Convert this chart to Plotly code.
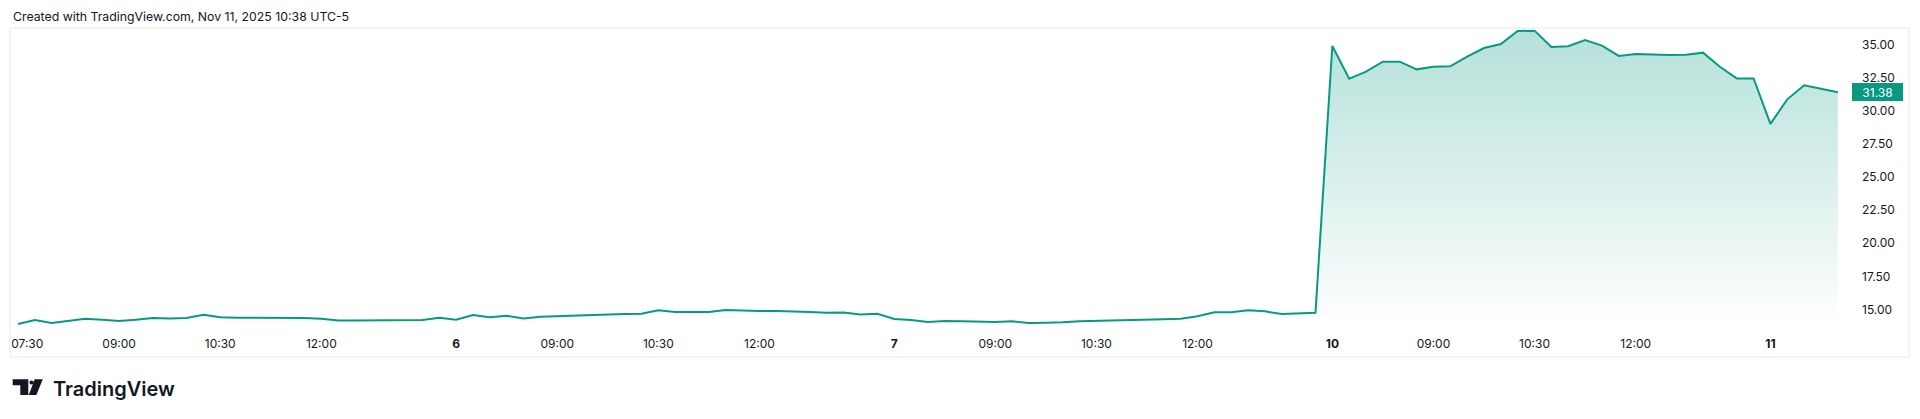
import plotly.graph_objects as go

# ---------------- data (15-minute closes) ----------------
day5 = [13.91, 14.21, 13.98, 14.16, 14.31, 14.23, 14.13, 14.23, 14.36, 14.33, 14.36, 14.61, 14.41,
        14.38, 14.38, 14.38, 14.36, 14.36, 14.31, 14.18, 14.18, 14.18, 14.21, 14.21, 14.21, 14.38]
day6 = [14.23, 14.58, 14.41, 14.53, 14.33, 14.46, 14.51, 14.53, 14.61, 14.63, 14.66, 14.68, 14.94,
        14.81, 14.81, 14.81, 14.96, 14.91, 14.88, 14.88, 14.86, 14.81, 14.76, 14.78, 14.63, 14.68]
day7 = [14.28, 14.21, 14.06, 14.13, 14.11, 14.08, 14.06, 14.11, 13.98, 14.01, 14.03, 14.11, 14.13,
        14.18, 14.21, 14.23, 14.26, 14.31, 14.49, 14.79, 14.79, 14.94, 14.86, 14.66, 14.71, 14.76]
day10 = [34.87, 32.41, 32.94, 33.69, 33.69, 33.11, 33.31, 33.34, 34.07, 34.72, 35.02, 36.00, 36.03,
         34.80, 34.85, 35.32, 34.90, 34.12, 34.27, 34.22, 34.20, 34.22, 34.37, 33.31, 32.43, 32.43]
day11 = [29.00, 30.85, 31.91, 31.65, 31.38]

tick_index = [0.55, 6, 12, 18, 26, 32, 38, 44, 52, 58, 64, 70, 78, 84, 90, 96, 104]
tick_labels = ["07:30", "09:00", "10:30", "12:00", "<b>6</b>", "09:00", "10:30", "12:00",
               "<b>7</b>", "09:00", "10:30", "12:00", "<b>10</b>", "09:00", "10:30", "12:00",
               "<b>11</b>"]
y_ticks = [15.0, 17.5, 20.0, 22.5, 25.0, 27.5, 30.0, 32.5, 35.0]
last_price = 31.38

title_text = "Created with TradingView.com, Nov 11, 2025 10:38 UTC-5"

# ---------------- build ----------------
closes = day5 + day6 + day7 + day10 + day11
idx = list(range(len(closes)))

PAGE_OFF = 8                       # default body margin of the html page
W, H = 1920 - PAGE_OFF, 419 - PAGE_OFF
L, R, T, B = 10, 1852, 28, 326     # plot area in page pixels
Y_LO, Y_HI = 13.756, 36.229
X_LO, X_HI = -0.475, 108.84

GREEN = "#089981"
TXT = "#131722"
FONT = "Inter, Roboto, sans-serif"


def px(x):
    return (x - L) / (R - L)


def py(y):
    return (B - y) / (B - T)


fig = go.Figure()
fig.add_trace(go.Scatter(
    x=idx, y=closes, mode="lines",
    line=dict(color=GREEN, width=2),
    fill="tozeroy",
    fillgradient=dict(type="vertical",
                      colorscale=[[0, "rgba(8,153,129,0.0)"], [1, "rgba(8,153,129,0.30)"]],
                      start=Y_LO, stop=max(closes)),
    hoverinfo="skip", showlegend=False,
))

shapes = [
    # outer frame
    dict(type="rect", xref="paper", yref="paper",
         x0=px(10), x1=px(1909), y0=py(357), y1=py(28),
         line=dict(color="#e6e9ee", width=1), fillcolor="rgba(0,0,0,0)", layer="below"),
    # TradingView logo mark
    dict(type="path", xref="paper", yref="paper",
         path=(f"M {px(12.7)},{py(379.3)} L {px(28.3)},{py(379.3)} L {px(28.3)},{py(395)} "
               f"L {px(20.3)},{py(395)} L {px(20.3)},{py(385.2)} L {px(12.7)},{py(385.2)} Z"),
         fillcolor="#131722", line=dict(width=0)),
    dict(type="circle", xref="paper", yref="paper",
         x0=px(29.4), x1=px(33.6), y0=py(384.6), y1=py(380.4),
         fillcolor="#131722", line=dict(width=0)),
    dict(type="path", xref="paper", yref="paper",
         path=(f"M {px(34.6)},{py(379.3)} L {px(42.8)},{py(379.3)} L {px(36.4)},{py(395)} "
               f"L {px(28.8)},{py(395)} Z"),
         fillcolor="#131722", line=dict(width=0)),
]

annotations = [
    dict(text=title_text, xref="paper", yref="paper", x=px(11), y=py(16),
         xanchor="left", yanchor="middle", showarrow=False,
         font=dict(family=FONT, size=12.3, color=TXT)),
    dict(text="TradingView", xref="paper", yref="paper", x=px(50.5), y=py(388.5),
         xanchor="left", yanchor="middle", showarrow=False,
         font=dict(family=FONT, size=20, color="#131722", weight=600)),
    dict(text=f"{last_price:.2f}", xref="paper", yref="y", x=px(1877.5), y=last_price,
         xanchor="center", yanchor="middle", showarrow=False,
         bgcolor=GREEN, borderpad=2, borderwidth=0, width=47, height=14,
         font=dict(family=FONT, size=12, color="white")),
]

fig.update_layout(
    width=W, height=H,
    margin=dict(l=L - PAGE_OFF, r=1920 - R, t=T - PAGE_OFF, b=419 - B, pad=0),
    paper_bgcolor="white", plot_bgcolor="white",
    font=dict(family=FONT, size=12, color=TXT),
    shapes=shapes, annotations=annotations,
    xaxis=dict(range=[X_LO, X_HI], tickvals=tick_index, ticktext=tick_labels,
               showgrid=False, zeroline=False, showline=False, ticks="",
               ticklabelstandoff=9, tickfont=dict(family=FONT, size=12, color=TXT),
               fixedrange=True),
    yaxis=dict(range=[Y_LO, Y_HI], side="right", tickvals=y_ticks,
               ticktext=[f"{v:.2f}" for v in y_ticks],
               showgrid=False, zeroline=False, showline=False, ticks="",
               ticklabelstandoff=9, tickfont=dict(family=FONT, size=12, color=TXT),
               fixedrange=True),
)

fig.write_html("out.html")
